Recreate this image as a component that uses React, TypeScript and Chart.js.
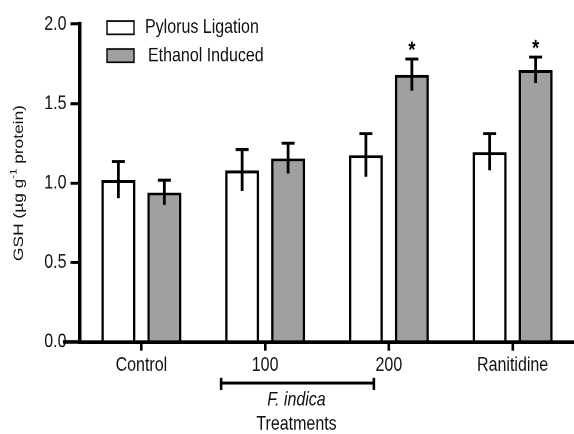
import React, { useEffect, useRef } from "react";
import { Chart, registerables } from "chart.js";

Chart.register(...registerables);

// ---- data ----
const categories = ["Control", "100", "200", "Ranitidine"];
const seriesLabels = ["Pylorus Ligation", "Ethanol Induced"];
const pylorusValues = [1.02, 1.08, 1.175, 1.195];
const pylorusErrors = [0.115, 0.13, 0.135, 0.115];
const ethanolValues = [0.94, 1.155, 1.68, 1.71];
const ethanolErrors = [0.078, 0.095, 0.1, 0.082];
const ethanolSignificant = [false, false, true, true];
const yTicks = [0, 0.5, 1.0, 1.5, 2.0];
const groupLabel = "F. indica";
const xTitle = "Treatments";
const yTitleParts = ["GSH (\u00b5g g", "-1", " protein)"];

const FONT = '"Liberation Sans", Arial, sans-serif';
const TEXT = "#111";
const STRETCH = 1.24;
const CW = 576;
const CH = 350;

const errorsBySeries = [pylorusErrors, ethanolErrors];
const valuesBySeries = [pylorusValues, ethanolValues];

const decorPlugin = {
  id: "decor",
  afterDatasetsDraw(chart: any) {
    const ctx = chart.ctx;
    const y = chart.scales.y;
    // error bars
    ctx.save();
    ctx.strokeStyle = "#000";
    for (let d = 0; d < 2; d++) {
      const meta = chart.getDatasetMeta(d);
      meta.data.forEach((el: any, i: number) => {
        const v = valuesBySeries[d][i];
        const e = errorsBySeries[d][i];
        const top = y.getPixelForValue(v + e);
        const bot = y.getPixelForValue(v - e);
        ctx.lineWidth = 2.8;
        ctx.beginPath();
        ctx.moveTo(el.x, top);
        ctx.lineTo(el.x, bot);
        ctx.stroke();
        ctx.lineWidth = 2.4;
        ctx.beginPath();
        ctx.moveTo(el.x - 6.5, top);
        ctx.lineTo(el.x + 6.5, top);
        ctx.stroke();
        if (d === 1 && ethanolSignificant[i]) {
          ctx.fillStyle = "#000";
          ctx.font = `bold 18px ${FONT}`;
          ctx.textAlign = "center";
          ctx.textBaseline = "alphabetic";
          ctx.fillText("*", el.x, top - 11.5 + 10.5);
        }
      });
    }
    ctx.restore();
  },
  afterDraw(chart: any) {
    const ctx = chart.ctx;
    const area = chart.chartArea;
    const x = chart.scales.x;
    ctx.save();
    // x axis extension to the left of the y axis
    ctx.strokeStyle = "#000";
    ctx.lineWidth = 3;
    ctx.beginPath();
    ctx.moveTo(63, area.bottom);
    ctx.lineTo(area.left, area.bottom);
    ctx.stroke();

    // bracket under the F. indica doses
    const bx1 = x.getPixelForValue(1) - 44;
    const bx2 = x.getPixelForValue(2) - 15;
    const by = 308.9;
    ctx.lineWidth = 2.4;
    ctx.beginPath();
    ctx.moveTo(bx1, by);
    ctx.lineTo(bx2, by);
    ctx.stroke();
    ctx.lineWidth = 2.6;
    ctx.beginPath();
    ctx.moveTo(bx1, by - 4.2);
    ctx.lineTo(bx1, by + 5.6);
    ctx.moveTo(bx2, by - 4.2);
    ctx.lineTo(bx2, by + 5.6);
    ctx.stroke();

    const cx = (bx1 + bx2) / 2 - 1;
    ctx.fillStyle = TEXT;
    ctx.textAlign = "center";
    ctx.textBaseline = "middle";
    ctx.font = `italic 16px ${FONT}`;
    ctx.fillText(groupLabel, cx, 322.6);
    ctx.font = `16px ${FONT}`;
    ctx.fillText(xTitle, cx, 342);

    // y axis title with superscript
    ctx.save();
    const cy = (area.top + area.bottom) / 2;
    ctx.translate(19, cy);
    ctx.rotate(-Math.PI / 2);
    const mainFont = `14px ${FONT}`;
    const supFont = `9px ${FONT}`;
    ctx.font = mainFont;
    const w0 = ctx.measureText(yTitleParts[0]).width;
    const w2 = ctx.measureText(yTitleParts[2]).width;
    ctx.font = supFont;
    const w1 = ctx.measureText(yTitleParts[1]).width;
    let px = -(w0 + w1 + w2) / 2;
    ctx.textAlign = "left";
    ctx.textBaseline = "middle";
    ctx.font = mainFont;
    ctx.fillText(yTitleParts[0], px, 0);
    px += w0;
    ctx.font = supFont;
    ctx.fillText(yTitleParts[1], px, -5);
    px += w1;
    ctx.font = mainFont;
    ctx.fillText(yTitleParts[2], px, 0);
    ctx.restore();

    // legend
    const ds = chart.data.datasets;
    const boxes = [
      { y: 16.9, tx: 145, ty: 21.9 },
      { y: 39.5, tx: 148, ty: 45.2 },
    ];
    boxes.forEach((b, i) => {
      ctx.fillStyle = ds[i].backgroundColor;
      ctx.fillRect(107, b.y, 27, 10.8);
      ctx.strokeStyle = "#000";
      ctx.lineWidth = 1.4;
      ctx.strokeRect(107, b.y, 27, 10.8);
      ctx.fillStyle = TEXT;
      ctx.font = `16px ${FONT}`;
      ctx.textAlign = "left";
      ctx.textBaseline = "middle";
      ctx.fillText(ds[i].label, b.tx, b.ty);
    });
    ctx.restore();
  },
};

export default function App() {
  const ref = useRef<HTMLCanvasElement | null>(null);

  useEffect(() => {
    if (!ref.current) return;
    const chart = new Chart(ref.current, {
      type: "bar",
      data: {
        labels: categories,
        datasets: [
          {
            label: seriesLabels[0],
            data: pylorusValues,
            backgroundColor: "#ffffff",
            borderColor: "#000",
            borderWidth: 2.5,
            categoryPercentage: 0.743,
            barPercentage: 0.74,
          },
          {
            label: seriesLabels[1],
            data: ethanolValues,
            backgroundColor: "#a0a0a0",
            borderColor: "#000",
            borderWidth: 2.5,
            categoryPercentage: 0.743,
            barPercentage: 0.74,
          },
        ],
      },
      options: {
        responsive: false,
        animation: false,
        devicePixelRatio: 2,
        layout: { padding: { top: 19.35, bottom: 0, left: 0, right: 1.5 } },
        plugins: {
          legend: { display: false },
          tooltip: { enabled: false },
        },
        scales: {
          x: {
            offset: true,
            grid: {
              offset: false,
              drawOnChartArea: false,
              drawTicks: true,
              tickLength: 7,
              color: "#000",
              lineWidth: 2.6,
            },
            border: { display: true, color: "#000", width: 3 },
            ticks: {
              color: TEXT,
              font: { size: 16, family: FONT },
              padding: 2,
              maxRotation: 0,
              autoSkip: false,
            },
            afterFit: (s: any) => {
              s.height = CH - 275.8;
            },
          },
          y: {
            min: 0,
            max: 2,
            afterBuildTicks: (s: any) => {
              s.ticks = yTicks.map((v) => ({ value: v }));
            },
            grid: {
              drawOnChartArea: false,
              drawTicks: true,
              tickLength: 9,
              color: "#000",
              lineWidth: 2.4,
            },
            border: { display: true, color: "#000", width: 3.5 },
            ticks: {
              color: TEXT,
              font: { size: 16, family: FONT },
              padding: 4,
              callback: (v: any) => Number(v).toFixed(1),
            },
            afterFit: (s: any) => {
              s.width = 79.5;
            },
          },
        },
      },
      plugins: [decorPlugin],
    });
    return () => chart.destroy();
  }, []);

  return (
    <div
      style={{
        position: "fixed",
        left: 0,
        top: 0,
        width: 574,
        height: 434,
        overflow: "hidden",
        background: "#fff",
      }}
    >
      <canvas
        ref={ref}
        width={CW}
        height={CH}
        style={{
          display: "block",
          width: CW,
          height: CH,
          transform: `scaleY(${STRETCH})`,
          transformOrigin: "0 0",
        }}
      />
    </div>
  );
}
